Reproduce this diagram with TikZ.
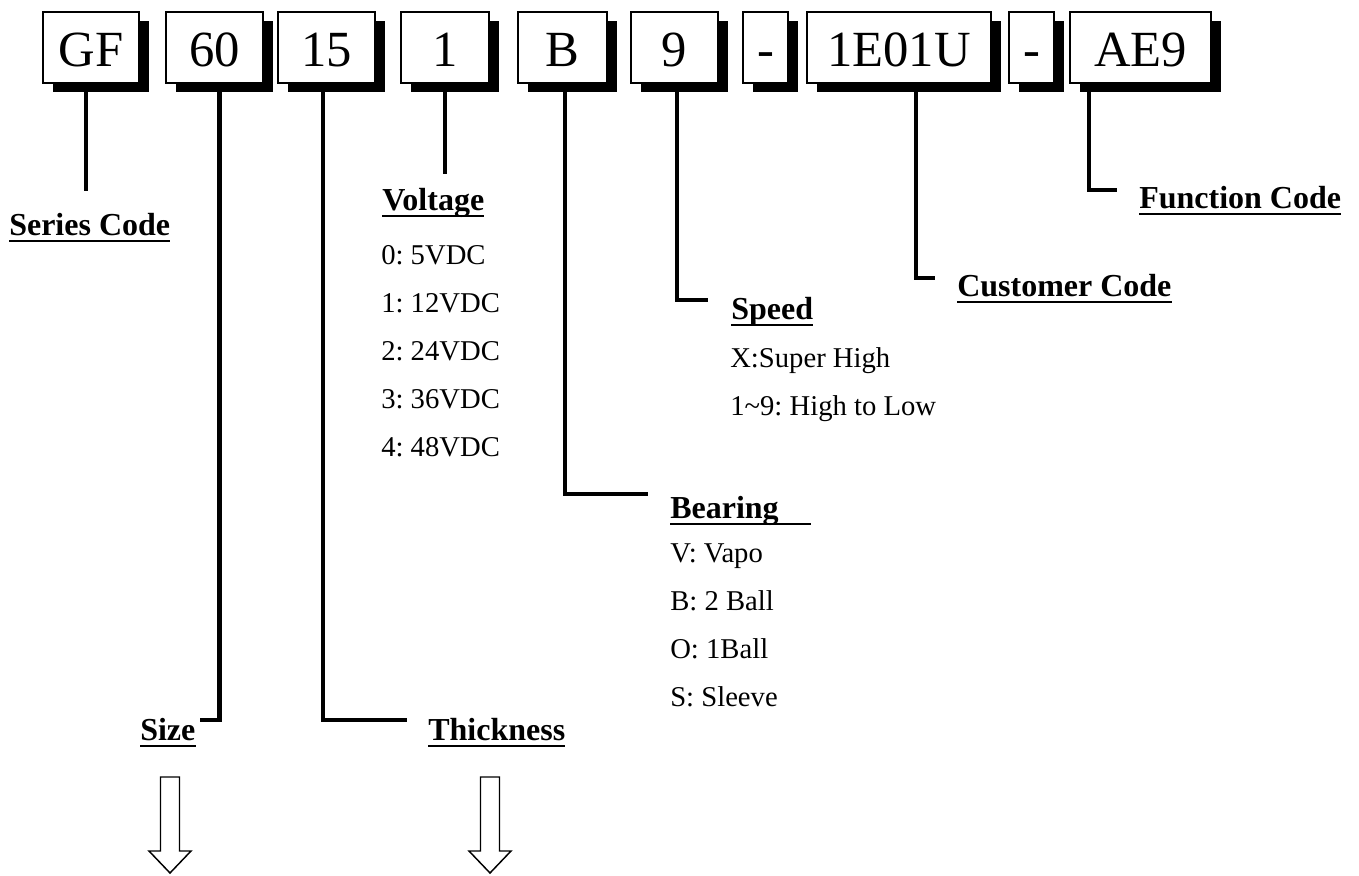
\documentclass[tikz,border=0pt]{standalone}
\usepackage{fontspec}
\setmainfont{Liberation Serif}
\usetikzlibrary{calc,shadows}
\frenchspacing

\tikzset{
  codebox/.style={draw=black, line width=1.3pt, fill=white, minimum height=53.25pt,
    inner sep=0pt, text height=28.5pt, text depth=0pt, font=\fontsize{38}{40}\selectfont,
    drop shadow={shadow xshift=7.5pt, shadow yshift=-6.5pt, fill=black, opacity=1}},
  lead/.style={line width=3.4pt},
  title/.style={anchor=base west, inner sep=0pt, font=\bfseries\fontsize{24}{27}\selectfont},
  item/.style={anchor=base west, inner sep=0pt, font=\fontsize{21.5}{24}\selectfont},
  uline/.style={line width=2.2pt},
  hollow/.style={draw=black, line width=1.1pt, fill=white}
}

\begin{document}
\begin{tikzpicture}[x=0.75pt,y=-0.75pt]
\path[use as bounding box, fill=white] (0,0) rectangle (1359,875);

% code boxes
\foreach \n/\x/\w/\t in {GF/91/72/GF, 60/214.5/72.75/60, 15/326.5/72.75/15,
    1/445/66/1, B/562.5/66.75/B, 9/674.5/65.25/9, dA/765.5/33.75/-,
    1E/899/138/1E01U, dB/1031.5/33.75/-, AE/1140.5/105.75/AE9}
  \node[codebox, minimum width=\w pt] (b\n) at (\x,47.5) {\t};

% titles
\node[title] (series) at (9,235) {Series Code};
\node[title] (size) at (140,740) {Size};
\node[title] (thick) at (428,740) {Thickness};
\node[title] (volt) at (382,210) {Voltage};
\node[title] (bearing) at (670,518) {Bearing\hspace*{24pt}};
\node[title] (speed) at (731,319) {Speed};
\node[title] (customer) at (957,296) {Customer Code};
\node[title] (function) at (1139,208) {Function Code};
\foreach \n in {series,size,thick,volt,bearing,speed,customer,function}
  \draw[uline] ([yshift=-4.5pt]\n.base west) -- ([yshift=-4.5pt]\n.base east);

% option lists
\foreach \t [count=\i] in {0: 5VDC,1: 12VDC,2: 24VDC,3: 36VDC,4: 48VDC}
  \node[item] (volt-\i) at (381,{216+48*\i}) {\t};
\foreach \t [count=\i] in {X:Super High,1\textasciitilde9: High to Low}
  \node[item] (speed-\i) at (730,{319+48*\i}) {\t};
\foreach \t [count=\i] in {V: Vapo,B: 2 Ball,O: 1Ball,S: Sleeve}
  \node[item] (bearing-\i) at (670,{514+48*\i}) {\t};

% leads
\coordinate (eGF) at (86,191);
\coordinate (e60) at (200,720);
\coordinate (e15) at (407,720);
\coordinate (e1) at (445,174);
\coordinate (eB) at (648,494);
\coordinate (e9) at (708,300);
\coordinate (e1E) at (935,278);
\coordinate (eAE) at (1117,190);
\draw[lead] (bGF.south -| eGF) -- (eGF);
\draw[lead] ([xshift=3.75pt]b60.south) |- (e60);
\draw[lead] ([xshift=-2.6pt]b15.south) |- (e15);
\draw[lead] (b1.south -| e1) -- (e1);
\draw[lead] ([xshift=1.9pt]bB.south) |- (eB);
\draw[lead] ([xshift=1.9pt]b9.south) |- (e9);
\draw[lead] ([xshift=12.75pt]b1E.south) |- (e1E);
\draw[lead] ([xshift=-38.6pt]bAE.south) |- (eAE);

% hollow arrows
\foreach \x in {170,490}
  \draw[hollow] (\x-9.5,777) -- (\x+9.5,777) -- (\x+9.5,851) -- (\x+21,851)
    -- (\x,873) -- (\x-21,851) -- (\x-9.5,851) -- cycle;
\end{tikzpicture}
\end{document}
